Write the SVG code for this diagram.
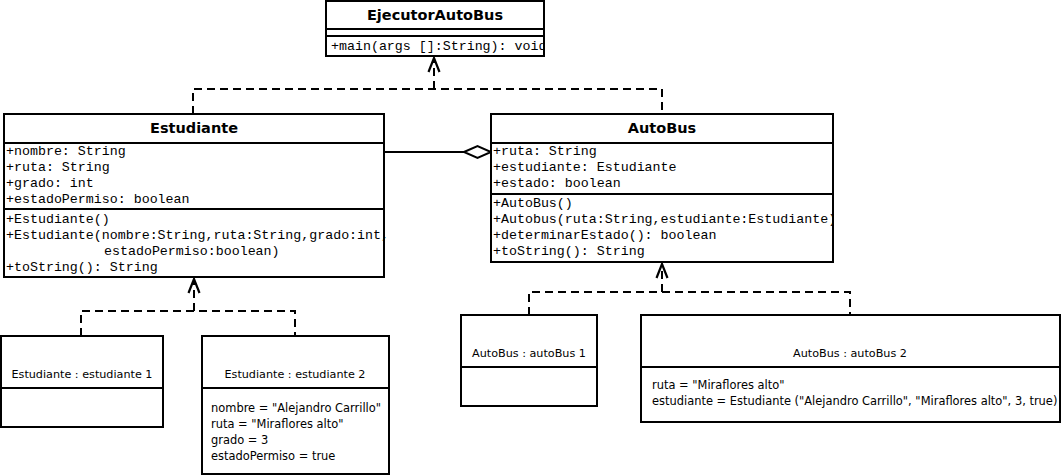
<svg xmlns="http://www.w3.org/2000/svg" width="1061" height="475" viewBox="0 0 1061 475">
<style>
.box{fill:#fff;stroke:#000;stroke-width:2}
.div{stroke:#000;stroke-width:2}
.title{font-family:"DejaVu Sans",sans-serif;font-weight:bold;font-size:14.5px;text-anchor:middle;fill:#000}
.mono{font-family:"Liberation Mono","Courier New",monospace;font-size:13.3px;fill:#000}
.obj{font-family:"DejaVu Sans",sans-serif;font-size:11.2px;fill:#000}
.att{font-family:"DejaVu Sans",sans-serif;font-size:11.45px;fill:#000}
.mid{text-anchor:middle}
.dash{fill:none;stroke:#000;stroke-width:2;stroke-dasharray:8 5}
.solid{fill:none;stroke:#000;stroke-width:2}
.head{fill:none;stroke:#000;stroke-width:2.2}
</style>
<defs>
<clipPath id="cEj"><rect x="326" y="1" width="218" height="55"/></clipPath>
<clipPath id="cAb"><rect x="491" y="114" width="342" height="148"/></clipPath>
</defs>
<g id="connectors">
<path class="dash" d="M193,114 V89 H662 V114"/>
<path class="dash" d="M434,89 V60"/>
<polyline class="head" points="428.5,72 434,58 439.5,72"/>
<path class="dash" d="M81,336 V311 H295 V336"/>
<path class="dash" d="M194,311 V281"/>
<polyline class="head" points="188.5,293 194,279 199.5,293"/>
<path class="dash" d="M529,315 V292 H850 V315"/>
<path class="dash" d="M662,292 V266"/>
<polyline class="head" points="656.5,278 662,264 667.5,278"/>
<path class="solid" d="M384,152 H464"/>
<polygon points="464,152 477.5,146 491,152 477.5,158" fill="#fff" stroke="#000" stroke-width="2"/>
</g>
<g id="EjecutorAutoBus">
<rect class="box" x="326" y="1" width="218" height="55"/>
<line class="div" x1="326" y1="29" x2="544" y2="29"/>
<line class="div" x1="326" y1="36" x2="544" y2="36"/>
<text class="title" x="435" y="20">EjecutorAutoBus</text>
<g clip-path="url(#cEj)"><text class="mono" x="331" y="50">+main(args []:String): void</text></g>
</g>
<g id="Estudiante">
<rect class="box" x="4" y="114" width="380" height="163"/>
<line class="div" x1="4" y1="143" x2="384" y2="143"/>
<line class="div" x1="4" y1="209" x2="384" y2="209"/>
<text class="title" x="194" y="133">Estudiante</text>
<text class="mono" x="6" y="155">+nombre: String</text>
<text class="mono" x="6" y="171">+ruta: String</text>
<text class="mono" x="6" y="187">+grado: int</text>
<text class="mono" x="6" y="203">+estadoPermiso: boolean</text>
<text class="mono" x="6" y="223">+Estudiante()</text>
<text class="mono" x="6" y="239">+Estudiante(nombre:String,ruta:String,grado:int,</text>
<text class="mono" x="104" y="255">estadoPermiso:boolean)</text>
<text class="mono" x="6" y="271">+toString(): String</text>
</g>
<g id="AutoBus">
<rect class="box" x="491" y="114" width="342" height="148"/>
<line class="div" x1="491" y1="143" x2="833" y2="143"/>
<line class="div" x1="491" y1="194" x2="833" y2="194"/>
<text class="title" x="662" y="133">AutoBus</text>
<g clip-path="url(#cAb)">
<text class="mono" x="493" y="155">+ruta: String</text>
<text class="mono" x="493" y="171">+estudiante: Estudiante</text>
<text class="mono" x="493" y="187">+estado: boolean</text>
<text class="mono" x="493" y="207">+AutoBus()</text>
<text class="mono" x="493" y="223">+Autobus(ruta:String,estudiante:Estudiante)</text>
<text class="mono" x="493" y="239">+determinarEstado(): boolean</text>
<text class="mono" x="493" y="255">+toString(): String</text>
</g>
</g>
<g id="estudiante1">
<rect class="box" x="1" y="336" width="162" height="91"/>
<line class="div" x1="1" y1="388" x2="163" y2="388"/>
<text class="obj mid" x="82" y="378">Estudiante : estudiante 1</text>
</g>
<g id="estudiante2">
<rect class="box" x="202" y="336" width="187" height="138"/>
<line class="div" x1="202" y1="388" x2="389" y2="388"/>
<text class="obj mid" x="295" y="378">Estudiante : estudiante 2</text>
<text class="att" x="211" y="412">nombre = "Alejandro Carrillo"</text>
<text class="att" x="211" y="428">ruta = "Miraflores alto"</text>
<text class="att" x="211" y="444">grado = 3</text>
<text class="att" x="211" y="460">estadoPermiso = true</text>
</g>
<g id="autoBus1">
<rect class="box" x="461" y="315" width="136" height="91"/>
<line class="div" x1="461" y1="367" x2="597" y2="367"/>
<text class="obj mid" x="529" y="357">AutoBus : autoBus 1</text>
</g>
<g id="autoBus2">
<rect class="box" x="641" y="315" width="419" height="107"/>
<line class="div" x1="641" y1="367" x2="1060" y2="367"/>
<text class="obj mid" x="850" y="357">AutoBus : autoBus 2</text>
<text class="att" x="652" y="389">ruta = "Miraflores alto"</text>
<text class="att" x="652" y="405">estudiante = Estudiante ("Alejandro Carrillo", "Miraflores alto", 3, true)</text>
</g>
</svg>
